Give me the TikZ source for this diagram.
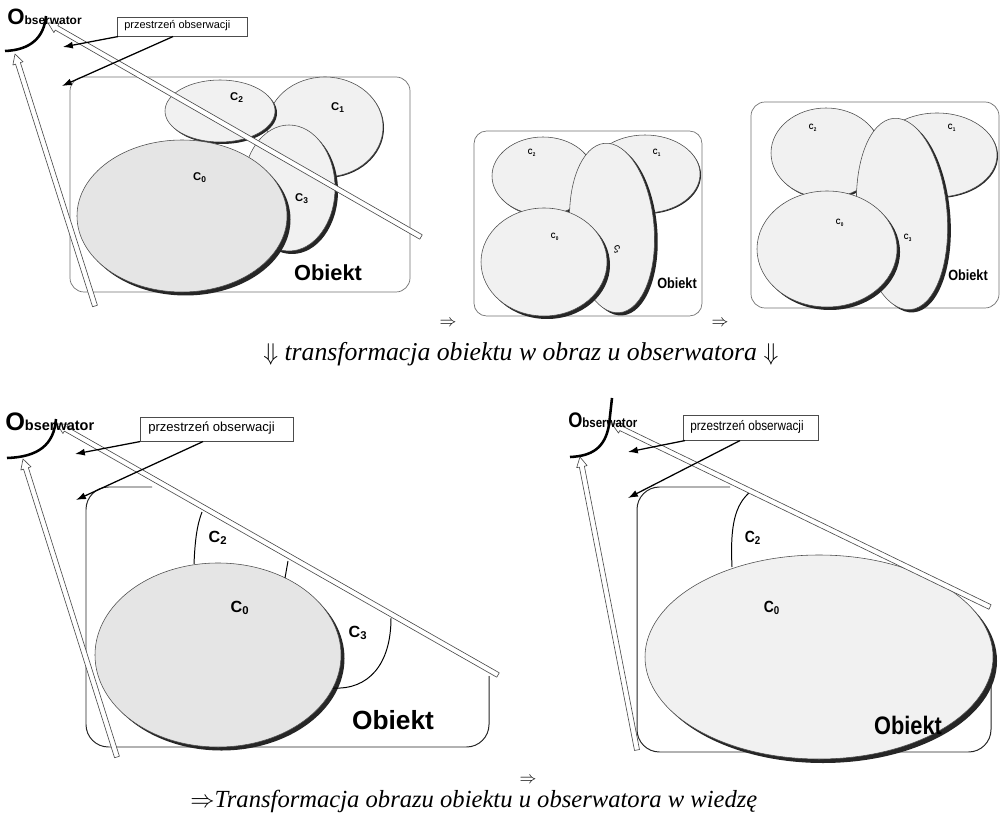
\documentclass[tikz,border=0pt]{standalone}
\usepackage{fontspec}
\setmainfont{Liberation Serif}
\newfontfamily\arial{Liberation Sans}
\newfontfamily\arialc[FakeStretch=0.86]{Liberation Sans}
\usetikzlibrary{calc,arrows.meta}
\newcommand\hollowarr[2]{%
  \coordinate (#2-b) at ($(#2)!7pt!(#1)$);
  \draw[hollow] ($(#1)!1.8pt!90:(#2)$) -- ($(#2-b)!1.8pt!-90:(#1)$) -- ($(#2-b)!3.8pt!-90:(#1)$) -- (#2)
     -- ($(#2-b)!3.8pt!90:(#1)$) -- ($(#2-b)!1.8pt!90:(#1)$) -- ($(#1)!1.8pt!-90:(#2)$) -- cycle;}
\newcommand\blob[7]{%
  \fill[black!85,rotate around={#1:(#2,#3)},shift={(#7,-#7)}] (#2,#3) ellipse [x radius=#4,y radius=#5];
  \draw[#6,rotate around={#1:(#2,#3)}] (#2,#3) ellipse [x radius=#4,y radius=#5];}
\begin{document}
\begin{tikzpicture}[x=0.025cm,y=0.025cm,
  obox/.style={draw=black!55,line width=0.5pt,rounded corners=10pt},
  obox2/.style={draw=black!85,line width=0.7pt,rounded corners=16pt},
  ell/.style={draw=black!70,line width=0.4pt,fill=gray!11},
  elld/.style={draw=black!70,line width=0.4pt,fill=gray!20},
  hollow/.style={draw=black!70,fill=white,line width=0.45pt,line join=round},
  pointer/.style={draw=black,line width=0.9pt,-{Latex[length=7pt,width=5pt]}},
  eye/.style={draw=black,line width=1.8pt},
  sbox/.style={draw=black!70,line width=0.4pt,fill=white,inner sep=0pt,anchor=north west},
  lab1/.style={font=\arial\bfseries\fontsize{8}{9}\selectfont,inner sep=0pt},
  lab4/.style={font=\arial\bfseries\fontsize{11.5}{12}\selectfont,inner sep=0pt},
  lab2/.style={font=\arialc\bfseries\fontsize{5.5}{6}\selectfont,inner sep=0pt},
  lab5/.style={font=\arialc\bfseries\fontsize{11.5}{12}\selectfont,inner sep=0pt},
  captext/.style={inner sep=0pt,anchor=base west},
  imp/.style={font=\fontsize{12}{14}\selectfont,inner sep=0pt}
]
\useasboundingbox (0,0) rectangle (1004,-826);
\fill[white] (0,0) rectangle (1004,-826);

% ================= panel 1 =================
\draw[obox] (70,-77) rectangle (410,-292);
\blob{0}{325}{-127}{58}{50}{ell}{1}
\blob{0}{220}{-111}{55}{31}{ell}{2}
\blob{0}{289}{-188}{46}{63}{ell}{3}
\blob{0}{182}{-216}{105}{76}{elld}{3.5}
\node[lab1] (p1c2) at (237,-98) {C\textsubscript{2}};
\node[lab1] (p1c1) at (338,-108) {C\textsubscript{1}};
\node[lab1] (p1c0) at (200,-178) {C\textsubscript{0}};
\node[lab1] (p1c3) at (302,-199) {C\textsubscript{3}};
\node[inner sep=0pt,font=\arial\bfseries\fontsize{15.5}{16}\selectfont] (p1obj) at (328,-273) {Obiekt};
\coordinate (p1aT) at (421,-237); \coordinate (p1aH) at (48,-23);
\coordinate (p1bT) at (95,-306);  \coordinate (p1bH) at (15,-54);
\hollowarr{p1aT}{p1aH}
\hollowarr{p1bT}{p1bH}
\node[sbox,minimum width=3.25cm,minimum height=0.475cm] (p1s) at (117,-17) {};
\node[anchor=west,inner sep=0pt,font=\arial\fontsize{7.8}{8}\selectfont] (p1st) at ($(p1s.west)+(7,1)$) {przestrzeń obserwacji};
\coordinate (p1q1) at (63,-47); \coordinate (p1q2) at (62,-86);
\draw[pointer] ($(p1s.south west)+(1,0)$) -- (p1q1);
\draw[pointer] ($(p1s.south west)+(56,0)$) -- (p1q2);
\node[anchor=base west,inner sep=0pt,font=\arial\bfseries] (p1o) at (7,-25)
  {{\fontsize{15.8}{16}\selectfont O}{\fontsize{8.5}{9}\selectfont bserwator}};
\draw[eye] (46,-16) .. controls (44,-38) and (30,-50) .. (5,-51);

% ================= panel 2 =================
\draw[obox,rounded corners=9pt] (474,-131) rectangle (702,-316);
\blob{0}{645}{-174}{55}{39}{ell}{1}
\blob{0}{543}{-176}{51}{39}{ell}{1.5}
\blob{5}{612}{-228}{42}{85}{ell}{3}
\blob{0}{544}{-262}{63}{54}{ell}{3}
\node[lab2] (p2c2) at (532,-153) {C\textsubscript{2}};
\node[lab2] (p2c1) at (657,-153) {C\textsubscript{1}};
\node[lab2] (p2c0) at (555,-237) {C\textsubscript{0}};
\node[lab2,rotate=-70] (p2c3) at (617,-250) {C\textsubscript{3}};
\node[inner sep=0pt,font=\arialc\bfseries\fontsize{10.5}{11}\selectfont] (p2obj) at (677,-283) {Obiekt};

% ================= panel 3 =================
\draw[obox] (751,-102) rectangle (999,-308);
\blob{0}{937}{-155}{60}{42}{ell}{1}
\blob{0}{826}{-153}{55}{45}{ell}{1.5}
\blob{5}{902}{-214}{45}{96}{ell}{3}
\blob{0}{827}{-249}{70}{58}{ell}{3}
\node[lab2] (p3c2) at (813,-128) {C\textsubscript{2}};
\node[lab2] (p3c1) at (952,-128) {C\textsubscript{1}};
\node[lab2] (p3c0) at (840,-223) {C\textsubscript{0}};
\node[lab2] (p3c3) at (908,-238) {C\textsubscript{3}};
\node[inner sep=0pt,font=\arialc\bfseries\fontsize{10.5}{11}\selectfont] (p3obj) at (968,-275) {Obiekt};

\node[imp] (im1) at (448,-323) {$\Rightarrow$};
\node[imp] (im2) at (720,-323) {$\Rightarrow$};
\node[captext,font=\fontsize{18.3}{20}\selectfont] (cap1) at (263,-360) {$\Downarrow$ \textit{transformacja obiektu w obraz u obserwatora} $\Downarrow$};

% ================= panel 4 =================
\draw[obox2] (152,-487) -- (86,-487) -- (86,-747) -- (489,-747) -- (489,-676);
\blob{0}{218}{-655}{123}{92}{elld}{3.5}
\draw[black,line width=0.7pt] (194,-564) .. controls (195,-540) and (197,-525) .. (202,-512);
\draw[black,line width=0.7pt] (288,-561) -- (285,-578);
\draw[black,line width=0.7pt] (333,-688) .. controls (368,-690) and (391,-665) .. (391,-618);
\node[lab4] (p4c2) at (218,-538) {C\textsubscript{2}};
\node[lab4] (p4c0) at (240,-608) {C\textsubscript{0}};
\node[lab4] (p4c3) at (358,-633) {C\textsubscript{3}};
\node[inner sep=0pt,font=\arial\bfseries\fontsize{18.7}{19}\selectfont] (p4obj) at (393,-720) {Obiekt};
\coordinate (p4aT) at (498,-675); \coordinate (p4aH) at (57,-424);
\coordinate (p4bT) at (117,-757); \coordinate (p4bH) at (23,-459);
\hollowarr{p4aT}{p4aH}
\hollowarr{p4bT}{p4bH}
\node[sbox,minimum width=3.825cm,minimum height=0.6cm] (p4s) at (140,-417) {};
\node[anchor=west,inner sep=0pt,font=\arial\fontsize{9.3}{10}\selectfont] (p4st) at ($(p4s.west)+(8,1)$) {przestrzeń obserwacji};
\coordinate (p4q1) at (75,-454); \coordinate (p4q2) at (76,-500);
\draw[pointer] (p4s.south west) -- (p4q1);
\draw[pointer] ($(p4s.south west)+(63,0)$) -- (p4q2);
\node[anchor=base west,inner sep=0pt,font=\arial\bfseries] (p4o) at (5,-430)
  {{\fontsize{18}{18}\selectfont O}{\fontsize{10.3}{11}\selectfont bserwator}};
\draw[eye] (56,-419) .. controls (54,-445) and (38,-457) .. (7,-458);

% ================= panel 5 =================
\draw[obox2] (730,-487) -- (637,-487) -- (637,-752) -- (991,-752) -- (991,-660);
\blob{0}{819}{-657}{174}{102}{ell}{4}
\draw[black,line width=0.7pt] (732,-567) .. controls (730,-525) and (735,-505) .. (750,-492);
\node[lab5] (p5c2) at (753,-538) {C\textsubscript{2}};
\node[lab5] (p5c0) at (772,-608) {C\textsubscript{0}};
\node[inner sep=0pt,font=\arialc\bfseries\fontsize{18}{18}\selectfont] (p5obj) at (908,-725) {Obiekt};
\coordinate (p5aT) at (990,-607); \coordinate (p5aH) at (612,-424);
\coordinate (p5bT) at (637,-750); \coordinate (p5bH) at (580,-457);
\hollowarr{p5aT}{p5aH}
\hollowarr{p5bT}{p5bH}
\node[sbox,minimum width=3.375cm,minimum height=0.625cm] (p5s) at (683,-415) {};
\node[anchor=west,inner sep=0pt,font=\arialc\fontsize{9.7}{10}\selectfont] (p5st) at ($(p5s.west)+(7,1)$) {przestrzeń obserwacji};
\coordinate (p5q1) at (628,-452); \coordinate (p5q2) at (628,-498);
\draw[pointer] ($(p5s.south west)+(2,0)$) -- (p5q1);
\draw[pointer] ($(p5s.south west)+(57,0)$) -- (p5q2);
\node[anchor=base west,inner sep=0pt,font=\arialc\bfseries] (p5o) at (568,-427)
  {{\fontsize{15}{15}\selectfont O}{\fontsize{9.5}{10}\selectfont bserwator}};
\draw[eye] (612,-398) -- (609,-425) .. controls (605,-448) and (592,-456) .. (570,-457);

\node[imp] (im3) at (528,-780) {$\Rightarrow$};
\node[captext,font=\fontsize{17.5}{20}\selectfont] (cap2) at (190,-807) {$\Rightarrow$\textit{Transformacja obrazu obiektu u obserwatora w wiedzę}};
\end{tikzpicture}
\end{document}
